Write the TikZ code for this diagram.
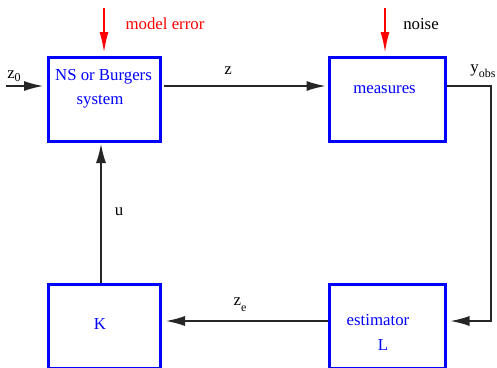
\documentclass[tikz,border=0pt]{standalone}
\usepackage{fontspec}
\setmainfont{Liberation Serif}
\usetikzlibrary{arrows.meta}
\newcommand{\lowsub}[2][-0.45ex]{\raisebox{#1}{\fontsize{12}{13}\selectfont #2}}
\begin{document}
\begin{tikzpicture}[x=1pt,y=-1pt,
  blockbox/.style={draw=blue,line width=3pt,minimum width=112pt,minimum height=84pt,inner sep=0pt},
  blocktext/.style={text=blue,inner sep=0pt,font=\fontsize{16.8}{19}\selectfont},
  plaintext/.style={inner sep=0pt,font=\fontsize{16.8}{19}\selectfont},
  redtext/.style={plaintext,text=red},
  flow/.style={line width=1.3pt,draw=black!85,-{Latex[length=19pt,width=10pt]}},
  disturb/.style={line width=1.3pt,draw=red,-{Latex[length=20pt,width=9pt]},shorten >=4pt}
]
\useasboundingbox (0,0) rectangle (497,367);

% blocks
\node[blockbox] (ns)   at (104.5,99.5) {};
\node[blockbox,minimum width=116pt] (meas) at (387,99.5) {};
\node[blockbox] (k)    at (104.5,326) {};
\node[blockbox,minimum width=116pt] (est)  at (387,326) {};

% block labels
\node[blocktext] (nsA) at (103.5,77) {NS or Burgers};
\node[blocktext] (nsB) at (100,102) {system};
\node[blocktext] (measT) at (384.5,90) {measures};
\node[blocktext] (kT) at (100,324) {K};
\node[blocktext] (estA) at (378,320) {estimator};
\node[blocktext] (estB) at (383,345) {L};

% free ends of connectors
\coordinate (z0s) at (6,86);
\coordinate (mes) at (104,8);
\coordinate (nos) at (385,8);
\coordinate (ycorner) at (491,86);
\coordinate (zeline) at (0,321);

% disturbances
\draw[disturb] (mes) -- (ns.north -| mes);
\draw[disturb] (nos) -- (meas.north -| nos);
\node[redtext] (meT) at (165,24) {model error};
\node[plaintext] (noT) at (421,24) {noise};

% signal flow
\draw[flow,shorten >=4pt] (z0s) -- (ns.west |- z0s);
\node[plaintext] (z0T) at (14,76) {z\lowsub{0}};

\draw[flow,shorten <=2pt,shorten >=2pt] (ns.east |- z0s) -- (meas.west |- z0s);
\node[plaintext] (zT) at (228,71) {z};

\draw[flow,shorten >=4pt] (meas.east |- ycorner) -- (ycorner) -- (ycorner |- zeline) -- (est.east |- zeline);
\node[plaintext] (yT) at (483,71) {y\lowsub[-0.6ex]{obs}};

\draw[flow,shorten >=4pt] (est.west |- zeline) -- (k.east |- zeline);
\node[plaintext] (zeT) at (240,305) {z\lowsub[-0.8ex]{e}};

\draw[flow,shorten >=1pt] (k.north -| 101,0) -- (ns.south -| 101,0);
\node[plaintext] (uT) at (119,212) {u};
\end{tikzpicture}
\end{document}
